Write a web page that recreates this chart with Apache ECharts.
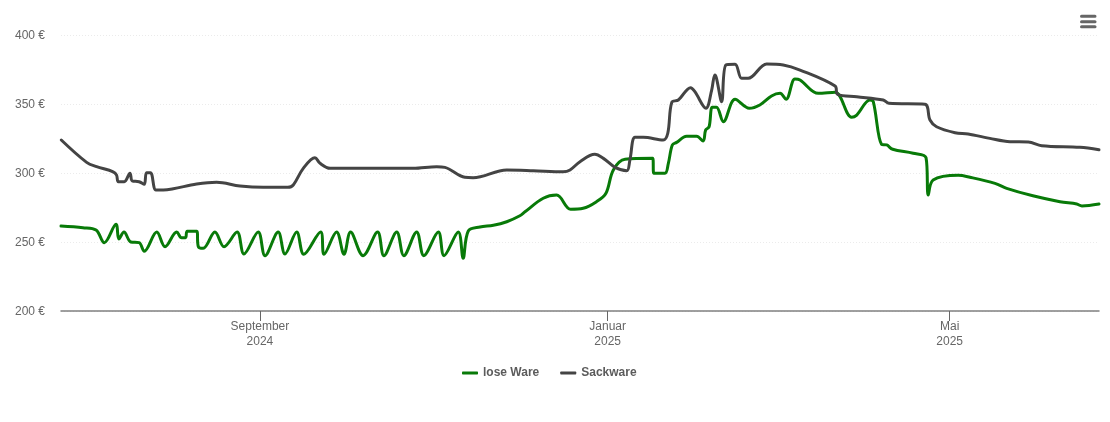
<!DOCTYPE html>
<html><head><meta charset="utf-8">
<style>html,body{margin:0;padding:0;background:#fff}#c{width:1110px;height:422px}</style>
<script src="https://cdn.jsdelivr.net/npm/echarts@6/dist/echarts.min.js"></script></head>
<body><div id="c"></div>
<script>
// All days are counted from 1 September 2024
const looseDays = [-69.8,-62.1,-57.5,-54.6,-50.5,-49.5,-47.7,-45.3,-42.4,-40.6,-36.2,-33.3,-29.2,-27.5,-26.1,-25.5,-22.2,-21.6,-19.9,-15.8,-12.6,-8,-5.6,-0.6,1.8,6.4,8.8,12.9,15.4,21.3,22.5,26.9,29.5,31.8,36.2,41.3,43.5,48,50.5,55,57.5,62.6,64.6,69.6,71.3,73.1,77.2,81.9,86.6,91.2,93,99.4,104.1,109,113.4,118.1,121.4,124,128.1,137.8,138.2,142.1,143.3,144.7,146.2,149.7,153.2,155.5,156.4,157.6,158.7,160.2,162.6,166.7,171.7,175.4,179.5,182.5,184.6,187.7,189.5,195.9,201.8,207.6,209.4,214,215.2,218.1,219.9,222,229.2,233.7,234.5,236.2,245,249.1,257.9,262,271.2,280.7,286.6,288.4,294.4];
const loosePrices = [261.6,260.4,258.7,249.5,262.8,252.2,257.2,250,249.5,243.3,257.2,246.6,257.2,253.1,253.1,257.8,257.8,246.6,245.4,257.2,246.6,257.2,241.3,257.2,240.1,257.2,241.3,257.2,241.1,257.2,241.1,257.2,241.1,257.2,240.1,257.2,240.1,257.2,240.1,257.2,240.1,257.2,240.1,257.2,238.2,258,260.9,262.1,264.7,269,271.9,281.7,284,273.7,274.4,279.2,285.3,302.2,309.9,310.6,299.8,299.8,307,320.3,322.2,326.6,326.6,323.2,331.2,333.5,347.6,347.6,337.2,353.4,346.9,349.3,355.8,357.7,353.4,368.1,367.4,357.7,358.5,340.4,342,352.9,351.7,320.8,320.3,317.2,314.3,311.1,284.1,294.9,298.3,296.9,292.5,288.9,283.5,279.2,277.5,276.1,277.5];
const sackDays = [-69.7,-60.8,-57.3,-51.5,-50.3,-49.7,-47.6,-45.6,-44.8,-42.4,-40.6,-39.8,-38.4,-36.5,-33.9,-30.4,-22.2,-15.2,-7,1.2,9.8,11.7,15.2,19.3,21.1,24.6,53.8,62,64.9,71.9,74.8,86.6,95.9,106.4,108.8,112.3,117.5,120.5,124.6,128.7,129.8,131.6,134.5,141.5,143.1,144.5,146.8,151.1,152.6,156.5,158.5,159.6,160.2,162,163.5,166.7,169,171.3,177.8,183.6,189.5,201.8,202.7,209.4,218.7,220.7,233.3,235.1,237.4,243.9,248.5,256.1,263.2,269.6,274.3,287.7,294.4];
const sackPrices = [323.9,307.7,304.6,300.9,298.5,293.7,293.7,299.8,294.2,293.7,291.8,300.2,300.2,287.7,287.7,288.6,292,293.3,290.6,289.6,289.6,291.3,303.4,311.1,307,303.4,303.4,304.6,304.1,296.9,296.6,302.2,301.7,300.9,302.2,308.2,313.5,310.6,304.1,301.7,309.4,325.9,325.9,323.9,328.8,351.2,352.9,361.8,358.9,346.9,360.1,371,368.6,351.7,378.3,378.8,368.6,368.6,379,378.3,374.6,363,357,355.3,352.9,350.5,349.8,338.4,333.5,329.2,328.3,325.1,322.7,322.5,319.8,318.6,316.9];
const seriesNames = ['lose Ware','Sackware'];
const tickDays = [0,122,242];
const tickLabels = ['September\n2024','Januar\n2025','Mai\n2025'];
const axisStartDay = -69.8, axisEndDay = 294.4;
const priceTicks = [200,250,300,350,400];

const pair = (days, vals) => days.map((d,i)=>[d, vals[i]]);
const FONT = '"Liberation Sans", Arial, sans-serif';
const line = (name, color, days, vals) => ({
  name, type:'line', data:pair(days,vals), showSymbol:false, symbol:'none',
  smooth:0.35, animation:false,
  lineStyle:{color, width:3, cap:'round', join:'round'}, itemStyle:{color}
});
const chart = echarts.init(document.getElementById('c'), null, {renderer:'canvas'});
chart.setOption({
  animation:false,
  grid:{left:61, right:11, top:35, bottom:111, containLabel:false},
  legend:{top:362, left:457, icon:'roundRect', itemWidth:16, itemHeight:3, itemGap:21,
    textStyle:{color:'#5c5c5c', fontWeight:'bold', fontSize:12, fontFamily:FONT},
    data:seriesNames},
  tooltip:{show:false},
  xAxis:{type:'value', min:axisStartDay, max:axisEndDay,
    axisLine:{onZero:false, lineStyle:{color:'#808080', width:1.5}},
    axisTick:{customValues:tickDays, length:10, lineStyle:{color:'#666', width:1}},
    axisLabel:{customValues:tickDays, color:'#666', fontSize:12, fontFamily:FONT, lineHeight:15, margin:8, hideOverlap:false,
      showMinLabel:true, showMaxLabel:true,
      formatter:(v)=>tickLabels[tickDays.indexOf(v)]||''},
    splitLine:{show:false}},
  yAxis:{type:'value', min:priceTicks[0], max:priceTicks[priceTicks.length-1], interval:50,
    axisLine:{show:false}, axisTick:{show:false},
    axisLabel:{color:'#666', fontSize:12, fontFamily:FONT, margin:16, verticalAlign:'top', lineHeight:2, formatter:v=>v+' €'},
    splitLine:{lineStyle:{color:'#ebebeb', width:1, type:[1,2]}}},
  series:[line(seriesNames[0],'#087a08',looseDays,loosePrices), line(seriesNames[1],'#444444',sackDays,sackPrices)],
  graphic:[14.7,20.3,25.3].map(y=>({type:'rect', silent:true, shape:{x:1080,y,width:16.5,height:3,r:1.5}, style:{fill:'#666'}}))
});
</script></body></html>
